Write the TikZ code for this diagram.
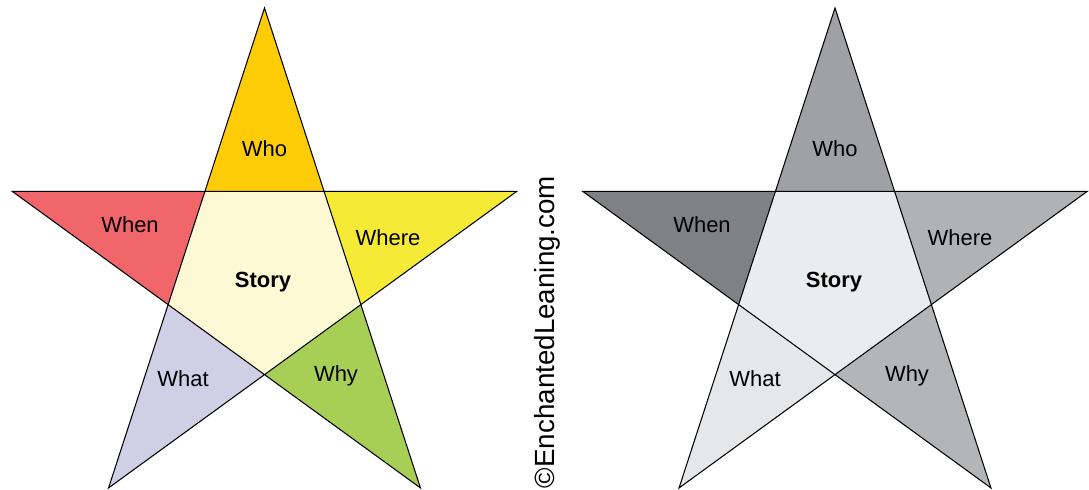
\documentclass[tikz,border=0pt]{standalone}
\usepackage{fontspec}
\setmainfont{Liberation Sans}

\definecolor{whocol}{HTML}{FECD07}
\definecolor{whencol}{HTML}{F0666A}
\definecolor{wherecol}{HTML}{F5EB37}
\definecolor{whycol}{HTML}{A8CF55}
\definecolor{whatcol}{HTML}{D0CFE6}
\definecolor{storycol}{HTML}{FDF9D4}

\definecolor{whogray}{HTML}{A0A1A4}
\definecolor{whengray}{HTML}{808185}
\definecolor{wheregray}{HTML}{B1B2B4}
\definecolor{whygray}{HTML}{B4B5B7}
\definecolor{whatgray}{HTML}{E6E7E8}
\definecolor{storygray}{HTML}{EBECED}

\tikzset{
    outline/.style={draw=black, line width=0.6pt, line join=miter},
    word/.style={inner sep=0pt, font=\fontsize{12.5}{14}\selectfont},
    bigword/.style={word, font=\fontsize{12.5}{14}\selectfont\bfseries},
}

\begin{document}
\begin{tikzpicture}[x=0.02cm, y=0.02cm]
    \useasboundingbox (0,0) rectangle (1089,490);

    % Left star, in colour
    \begin{scope}[shift={(264.5,216.7)}]
        \coordinate (Lo1) at (90:265.3);
        \coordinate (Lo2) at (162:265.3);
        \coordinate (Lo3) at (234:265.3);
        \coordinate (Lo4) at (306:265.3);
        \coordinate (Lo5) at (18:265.3);
        \coordinate (Li1) at (54:101.3);
        \coordinate (Li2) at (126:101.3);
        \coordinate (Li3) at (198:101.3);
        \coordinate (Li4) at (270:101.3);
        \coordinate (Li5) at (342:101.3);

        \fill[storycol] (Li1) -- (Li2) -- (Li3) -- (Li4) -- (Li5) -- cycle;
        \fill[whocol] (Lo1) -- (Li1) -- (Li2) -- cycle;
        \fill[whencol] (Lo2) -- (Li2) -- (Li3) -- cycle;
        \fill[whatcol] (Lo3) -- (Li3) -- (Li4) -- cycle;
        \fill[whycol] (Lo4) -- (Li4) -- (Li5) -- cycle;
        \fill[wherecol] (Lo5) -- (Li5) -- (Li1) -- cycle;
        \draw[outline] (Lo1) -- (Lo3) -- (Lo5) -- (Lo2) -- (Lo4) -- cycle;

        \node[word] (Lwho) at (0,125) {Who};
        \node[word] (Lwhen) at (-134.5,49) {When};
        \node[word] (Lwhere) at (123.5,36) {Where};
        \node[bigword] (Lstory) at (-1.5,-9) {Story};
        \node[word] (Lwhat) at (-81.5,-105) {What};
        \node[word] (Lwhy) at (71.5,-103) {Why};
    \end{scope}

    % Right star, in grays
    \begin{scope}[shift={(835,216.7)}]
        \coordinate (Ro1) at (90:265.3);
        \coordinate (Ro2) at (162:265.3);
        \coordinate (Ro3) at (234:265.3);
        \coordinate (Ro4) at (306:265.3);
        \coordinate (Ro5) at (18:265.3);
        \coordinate (Ri1) at (54:101.3);
        \coordinate (Ri2) at (126:101.3);
        \coordinate (Ri3) at (198:101.3);
        \coordinate (Ri4) at (270:101.3);
        \coordinate (Ri5) at (342:101.3);

        \fill[storygray] (Ri1) -- (Ri2) -- (Ri3) -- (Ri4) -- (Ri5) -- cycle;
        \fill[whogray] (Ro1) -- (Ri1) -- (Ri2) -- cycle;
        \fill[whengray] (Ro2) -- (Ri2) -- (Ri3) -- cycle;
        \fill[whatgray] (Ro3) -- (Ri3) -- (Ri4) -- cycle;
        \fill[whygray] (Ro4) -- (Ri4) -- (Ri5) -- cycle;
        \fill[wheregray] (Ro5) -- (Ri5) -- (Ri1) -- cycle;
        \draw[outline] (Ro1) -- (Ro3) -- (Ro5) -- (Ro2) -- (Ro4) -- cycle;

        \node[word] (Rwho) at (0,125) {Who};
        \node[word] (Rwhen) at (-133,49) {When};
        \node[word] (Rwhere) at (125,36) {Where};
        \node[bigword] (Rstory) at (-1,-9) {Story};
        \node[word] (Rwhat) at (-80,-105) {What};
        \node[word] (Rwhy) at (72,-103) {Why};
    \end{scope}

    % Credit line between the stars
    \node[rotate=90, inner sep=0pt, font=\fontsize{15.8}{18}\selectfont] (credit) at (547,158) {©EnchantedLeaning.com};
\end{tikzpicture}
\end{document}
